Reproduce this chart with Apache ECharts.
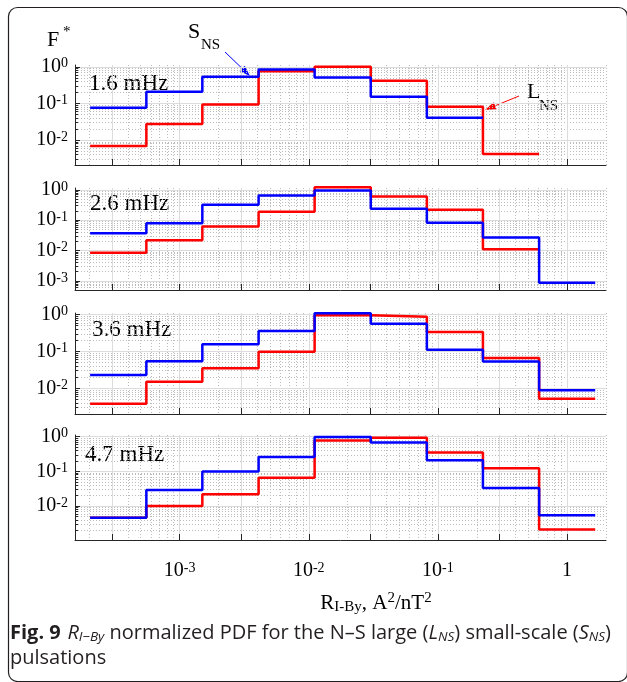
<!DOCTYPE html>
<html>
<head>
<meta charset="utf-8">
<script src="https://cdn.jsdelivr.net/npm/echarts@6/dist/echarts.min.js"></script>
<style>
html, body { margin: 0; padding: 0; background: #fff; }
#chart { width: 627px; height: 682px; }
</style>
</head>
<body>
<div id="chart"></div>
<script>
// bin edges, A^2/nT^2
const binEdges = [2.03e-4, 5.53e-4, 1.50e-3, 4.09e-3, 1.11e-2, 3.02e-2, 8.21e-2, 0.223, 0.607, 1.65]

const freqLabels = ['1.6 mHz', '2.6 mHz', '3.6 mHz', '4.7 mHz']

// L_NS (красная)
const largeNS16 = [0.0069, 0.0274, 0.094, 0.76, 1.0, 0.415, 0.081, 0.0042]
const largeNS26 = [0.0085, 0.022, 0.062, 0.19, 1.22, 0.6, 0.22, 0.011]
const largeNS36 = [0.0038, 0.015, 0.035, 0.099, 0.96, 0.88, 0.34, 0.066, 0.0052]
const largeNS47 = [0.0046, 0.010, 0.022, 0.066, 0.78, 0.93, 0.35, 0.124, 0.0021]

// S_NS (синяя)
const smallNS16 = [0.076, 0.208, 0.533, 0.85, 0.514, 0.152, 0.0407]
const smallNS26 = [0.037, 0.079, 0.32, 0.65, 0.95, 0.24, 0.083, 0.027, 0.00087]
const smallNS36 = [0.023, 0.054, 0.158, 0.36, 1.1, 0.57, 0.112, 0.053, 0.0089]
const smallNS47 = [0.0046, 0.029, 0.10, 0.26, 0.98, 0.68, 0.21, 0.033, 0.0054]

const xTicks = [3e-4, 1e-3, 3e-3, 1e-2, 3e-2, 0.1, 0.3, 1]
const xTickLabels = [1e-3, 1e-2, 1e-1, 1]
const yTickLabels = [[1, 0.1, 0.01], [1, 0.1, 0.01, 0.001], [1, 0.1, 0.01], [1, 0.1, 0.01]]

const xMin = 1.55e-4
const xMax = 2.0
const yMin = [0.0021, 0.0005, 0.002, 0.00105]
const yMax = [1.12, 1.15, 1.11, 1.12]

const largeAll = [largeNS16, largeNS26, largeNS36, largeNS47]
const smallAll = [smallNS16, smallNS26, smallNS36, smallNS47]

// раскладка панелей
const panelTop = [65, 188, 313, 435]
const panelHeight = [100, 102, 101, 105]

const serif = 'Liberation Serif'
const sans = 'Open Sans'
const axisColor = '#262626'
const capColor = '#231f20'

// деления логарифмической шкалы: 1..9 x 10^k
const minorValues = (lo, hi) => {
  const out = []
  for (let k = -5; k <= 1; k++) {
    for (let m = 1; m <= 9; m++) {
      const v = m * Math.pow(10, k)
      if (v >= lo && v <= hi) out.push(v)
    }
  }
  return out
}

const powLabel = (v, plainOne) => {
  const e = Math.round(Math.log10(v))
  if (plainOne && e === 0) return '{b|1}'
  return '{b|10}{s|' + e + '}'
}

const labelRich = {
  b: { fontFamily: serif, fontSize: 20, lineHeight: 20, color: '#000' },
  s: { fontFamily: serif, fontSize: 14, lineHeight: 5, verticalAlign: 'top', color: '#000' }
}

// ступенчатая линия по границам бинов
const stepData = (vals) => {
  const d = vals.map((v, i) => [binEdges[i], v])
  d.push([binEdges[vals.length], vals[vals.length - 1]])
  return d
}

const grids = []
const xAxes = []
const yAxes = []
const series = []

for (let i = 0; i < 4; i++) {
  grids.push({ left: 75, right: 21, top: panelTop[i], height: panelHeight[i], containLabel: false, outerBoundsMode: 'none' })

  // основная ось X
  xAxes.push({
    type: 'log', gridIndex: i, position: 'bottom', min: xMin, max: xMax, z: 2,
    axisLine: { show: true, lineStyle: { color: axisColor, width: 1 } },
    axisTick: { show: true, inside: true, length: 6, customValues: xTicks, lineStyle: { color: axisColor } },
    axisLabel: {
      show: i === 3, customValues: xTickLabels, margin: 21,
      formatter: v => powLabel(v, true), rich: labelRich
    },
    splitLine: { show: true, lineStyle: { color: '#dcdcdc', width: 1 } },
    minorTick: { show: false }, minorSplitLine: { show: false }
  })
  // минорная сетка X (пунктир)
  xAxes.push({
    type: 'log', gridIndex: i, position: 'bottom', min: xMin, max: xMax, z: 1,
    axisLine: { show: false },
    axisTick: { show: false, customValues: minorValues(xMin, xMax) },
    axisLabel: { show: false },
    splitLine: { show: true, lineStyle: { color: '#bcbcbc', width: 1, type: [1, 2] } }
  })

  const majors = minorValues(yMin[i], yMax[i]).filter(v => Math.abs(Math.log10(v) - Math.round(Math.log10(v))) < 1e-9)
  yAxes.push({
    type: 'log', gridIndex: i, position: 'left', min: yMin[i], max: yMax[i], z: 2,
    axisLine: { show: true, lineStyle: { color: axisColor, width: 1 } },
    axisTick: { show: true, inside: true, length: 5, customValues: majors, lineStyle: { color: axisColor } },
    axisLabel: {
      show: true, customValues: yTickLabels[i], margin: 7,
      formatter: v => powLabel(v, false), rich: labelRich
    },
    splitLine: { show: true, lineStyle: { color: '#dcdcdc', width: 1 } }
  })
  yAxes.push({
    type: 'log', gridIndex: i, position: 'left', min: yMin[i], max: yMax[i], z: 1,
    axisLine: { show: false },
    axisTick: { show: true, inside: true, length: 3, customValues: minorValues(yMin[i], yMax[i]), lineStyle: { color: axisColor } },
    axisLabel: { show: false },
    splitLine: { show: true, lineStyle: { color: '#bcbcbc', width: 1, type: [1, 2] } }
  })

  series.push({
    name: 'L_NS', type: 'line', step: 'end', xAxisIndex: i * 2, yAxisIndex: i * 2,
    data: stepData(largeAll[i]), symbol: 'none', clip: false, z: 3,
    lineStyle: { color: '#ff0000', width: 2.5 }
  })
  series.push({
    name: 'S_NS', type: 'line', step: 'end', xAxisIndex: i * 2, yAxisIndex: i * 2,
    data: stepData(smallAll[i]), symbol: 'none', clip: false, z: 4,
    lineStyle: { color: '#0000ff', width: 2.5 }
  })
}

// стрелка-указатель
const arrow = (x1, y1, x2, y2, color) => {
  const a = Math.atan2(y2 - y1, x2 - x1)
  const len = 11, hw = 3.8
  const bx = x2 - len * Math.cos(a), by = y2 - len * Math.sin(a)
  return {
    type: 'group', children: [
      { type: 'line', shape: { x1: x1, y1: y1, x2: bx, y2: by }, style: { stroke: color, lineWidth: 1 } },
      { type: 'polygon', shape: { points: [[x2, y2], [bx + hw * Math.sin(a), by - hw * Math.cos(a)], [bx - hw * Math.sin(a), by + hw * Math.cos(a)]] }, style: { fill: color } }
    ]
  }
}

const txt = (x, y, text, size, extra) => Object.assign({
  type: 'text', x: x, y: y,
  style: Object.assign({ text: text, fontFamily: serif, fontSize: size, fill: '#000', align: 'left', verticalAlign: 'middle' }, extra || {})
})

const freqPos = [[89, 84], [90, 204], [92, 330], [85, 455]]

const graphics = [
  { type: 'rect', shape: { x: 8.5, y: 7.5, width: 619, height: 674, r: 9 }, style: { fill: 'none', stroke: capColor, lineWidth: 1.2 }, silent: true },
  txt(47, 40, 'F', 22),
  txt(63, 32, '*', 15),
  txt(188, 32, 'S', 22),
  txt(201, 45, 'NS', 15),
  arrow(225, 52, 250, 76, '#0000ff'),
  txt(527, 92, 'L', 22),
  txt(539, 106, 'NS', 15),
  arrow(519, 96, 485, 110, '#ff0000'),
  {
    type: 'text', x: 376, y: 603,
    style: {
      text: '{b|R}{sub|I-By}{b|, A}{sup|2}{b|/nT}{sup|2}', align: 'center', verticalAlign: 'middle',
      rich: {
        b: { fontFamily: serif, fontSize: 21, lineHeight: 24, fill: '#000' },
        sub: { fontFamily: serif, fontSize: 15, lineHeight: 1, verticalAlign: 'bottom', fill: '#000' },
        sup: { fontFamily: serif, fontSize: 15, lineHeight: 10, verticalAlign: 'top', fill: '#000' }
      }
    }
  },
  {
    type: 'text', x: 10, y: 633,
    style: {
      text: '{bf|Fig. 9}  {it|R}{its|I\u2212By}{n| normalized PDF for the N\u2013S large (}{it|L}{its|NS}{n|) small-scale (}{it|S}{its|NS}{n|)}',
      align: 'left', verticalAlign: 'middle',
      rich: {
        bf: { fontFamily: sans, fontSize: 20, fontWeight: 'bold', lineHeight: 22, fill: capColor },
        n: { fontFamily: sans, fontSize: 20, lineHeight: 22, fill: capColor },
        it: { fontFamily: sans, fontSize: 20, fontStyle: 'italic', lineHeight: 22, fill: capColor },
        its: { fontFamily: sans, fontSize: 13.5, fontStyle: 'italic', lineHeight: 10, verticalAlign: 'bottom', fill: capColor }
      }
    }
  },
  txt(10, 658, 'pulsations', 20, { fontFamily: sans, fill: capColor })
]

freqLabels.forEach((t, i) => graphics.push(txt(freqPos[i][0], freqPos[i][1], t, 23)))

const chart = echarts.init(document.getElementById('chart'))
chart.setOption({
  animation: false,
  backgroundColor: '#fff',
  grid: grids,
  xAxis: xAxes,
  yAxis: yAxes,
  series: series,
  graphic: graphics
})
</script>
</body>
</html>
